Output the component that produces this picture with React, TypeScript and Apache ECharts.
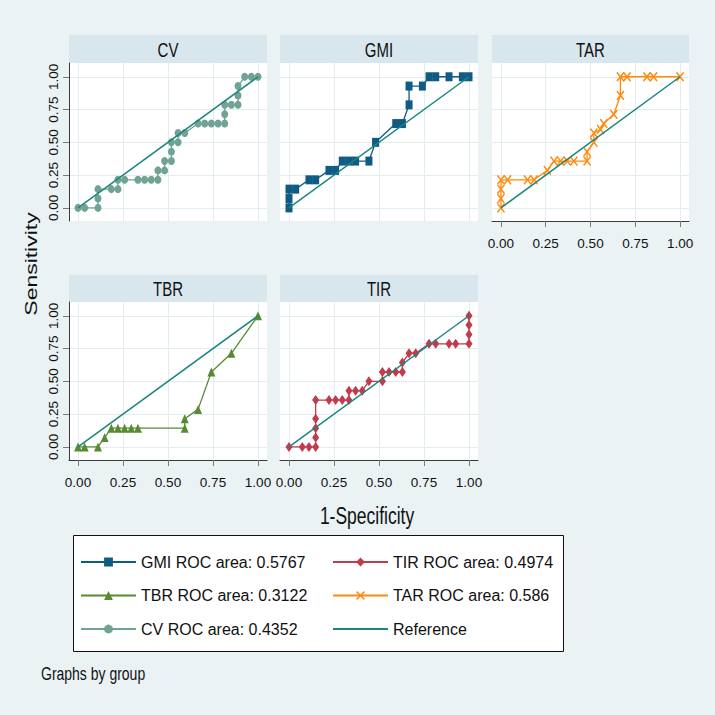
import React, { useEffect, useRef } from 'react';
import * as echarts from 'echarts';

// ---- data (1-Specificity, Sensitivity) ----
const cvX = [0, 0.037, 0.111, 0.111, 0.111, 0.185, 0.222, 0.222, 0.259, 0.333, 0.370, 0.407, 0.444, 0.444, 0.481, 0.481, 0.519, 0.519, 0.519, 0.556, 0.556, 0.593, 0.667, 0.704, 0.741, 0.778, 0.815, 0.815, 0.815, 0.852, 0.889, 0.889, 0.889, 0.926, 0.963, 1];
const cvY = [0, 0, 0, 0.071, 0.143, 0.143, 0.143, 0.214, 0.214, 0.214, 0.214, 0.214, 0.214, 0.286, 0.286, 0.357, 0.357, 0.429, 0.5, 0.5, 0.571, 0.571, 0.643, 0.643, 0.643, 0.643, 0.643, 0.714, 0.786, 0.786, 0.786, 0.857, 0.929, 1, 1, 1];

const gmiX = [0, 0, 0, 0.037, 0.111, 0.148, 0.222, 0.259, 0.296, 0.333, 0.370, 0.444, 0.481, 0.593, 0.630, 0.667, 0.667, 0.741, 0.778, 0.815, 0.889, 0.963, 1];
const gmiY = [0, 0.071, 0.143, 0.143, 0.214, 0.214, 0.286, 0.286, 0.357, 0.357, 0.357, 0.357, 0.5, 0.643, 0.643, 0.786, 0.929, 0.929, 1, 1, 1, 1, 1];

const tarX = [0, 0, 0, 0, 0.037, 0.148, 0.185, 0.259, 0.296, 0.333, 0.370, 0.407, 0.481, 0.481, 0.519, 0.519, 0.556, 0.574, 0.630, 0.667, 0.667, 0.704, 0.815, 0.852, 1];
const tarY = [0, 0.071, 0.143, 0.214, 0.214, 0.214, 0.214, 0.286, 0.357, 0.357, 0.357, 0.357, 0.357, 0.429, 0.5, 0.571, 0.597, 0.643, 0.714, 0.857, 1, 1, 1, 1, 1];

const tbrX = [0, 0.037, 0.111, 0.148, 0.185, 0.222, 0.259, 0.296, 0.333, 0.593, 0.593, 0.667, 0.741, 0.852, 1];
const tbrY = [0, 0, 0, 0.071, 0.143, 0.143, 0.143, 0.143, 0.143, 0.143, 0.214, 0.286, 0.571, 0.714, 1];

const tirX = [0, 0.074, 0.111, 0.148, 0.148, 0.148, 0.148, 0.148, 0.222, 0.259, 0.296, 0.333, 0.333, 0.370, 0.407, 0.444, 0.519, 0.519, 0.556, 0.593, 0.630, 0.630, 0.667, 0.704, 0.778, 0.815, 0.889, 0.926, 1, 1, 1, 1];
const tirY = [0, 0, 0, 0, 0.071, 0.143, 0.214, 0.357, 0.357, 0.357, 0.357, 0.357, 0.429, 0.429, 0.429, 0.5, 0.5, 0.571, 0.571, 0.571, 0.571, 0.643, 0.714, 0.714, 0.786, 0.786, 0.786, 0.786, 0.786, 0.857, 0.929, 1];

const refX = [0, 1];
const refY = [0, 1];

const panelNames = ['CV', 'GMI', 'TAR', 'TBR', 'TIR'];
const tickValues = [0, 0.25, 0.5, 0.75, 1];

const gmiName = 'GMI ROC area: 0.5767';
const tbrName = 'TBR ROC area: 0.3122';
const cvName = 'CV ROC area: 0.4352';
const tirName = 'TIR ROC area: 0.4974';
const tarName = 'TAR ROC area: 0.586';
const refName = 'Reference';

const xTitle = '1-Specificity';
const yTitle = 'Sensitivity';
const note = 'Graphs by group';

const FONT = '"Liberation Sans", Arial, Helvetica, sans-serif';

const COL = {
  gmi: '#0f5b83',
  tbr: '#578a33',
  cv: '#71a395',
  tir: '#c23b4c',
  tar: '#ff8a0d',
  ref: '#19877f',
};

const X_SYMBOL = 'path://M0,1.2 L1.2,0 L5,3.8 L8.8,0 L10,1.2 L6.2,5 L10,8.8 L8.8,10 L5,6.2 L1.2,10 L0,8.8 L3.8,5 Z';

// layout of the five panels: [left, top, width, height]
const layout: number[][] = [
  [69, 63, 198, 158],
  [280, 63, 198, 158],
  [492, 63, 197, 158],
  [69, 302, 198, 158],
  [280, 302, 198, 158],
];
const headerTop = [35, 35, 35, 275, 275];

const zip = (xs: number[], ys: number[]) => xs.map((v, i) => [v, ys[i]]);

export default function App() {
  const ref = useRef<HTMLDivElement>(null);
  useEffect(() => {
    if (!ref.current) return;
    const chart = echarts.init(ref.current, null, { renderer: 'svg' });

    const showXLabels = [false, false, true, true, true];
    const showYLabels = [true, false, false, true, false];

    const grids = layout.map((g) => ({
      left: g[0], top: g[1], width: g[2], height: g[3],
      show: true, backgroundColor: '#ffffff', borderWidth: 0, containLabel: false,
    }));

    const xAxes = layout.map((_, i) => ({
      type: 'value', gridIndex: i, min: -0.05, max: 1.05,
      axisLine: { show: showXLabels[i], onZero: false, lineStyle: { color: '#3a3a3a', width: 1 } },
      axisTick: { show: showXLabels[i], customValues: tickValues, length: 6, lineStyle: { color: '#7a7a7a' } },
      axisLabel: {
        show: showXLabels[i], customValues: tickValues, margin: 15,
        fontSize: 13.5, color: '#111', fontFamily: FONT,
        formatter: (v: number) => v.toFixed(2),
      },
      splitLine: { show: true, lineStyle: { color: '#e3edf1', width: 1 } },
    }));

    const yAxes = layout.map((_, i) => ({
      type: 'value', gridIndex: i, min: -0.1, max: 1.105,
      axisLine: { show: showYLabels[i], onZero: false, lineStyle: { color: '#3a3a3a', width: 1 } },
      axisTick: { show: showYLabels[i], customValues: tickValues, length: 6, lineStyle: { color: '#7a7a7a' } },
      axisLabel: {
        show: showYLabels[i], customValues: tickValues, rotate: 90, margin: 9,
        fontSize: 13.5, color: '#111', fontFamily: FONT,
        formatter: (v: number) => v.toFixed(2),
      },
      splitLine: { show: true, lineStyle: { color: '#e3edf1', width: 1 } },
    }));

    const rocDefs = [
      { name: cvName, data: zip(cvX, cvY), color: COL.cv, symbol: 'circle', size: [7, 8], idx: 0 },
      { name: gmiName, data: zip(gmiX, gmiY), color: COL.gmi, symbol: 'rect', size: [7, 9], idx: 1 },
      { name: tarName, data: zip(tarX, tarY), color: COL.tar, symbol: X_SYMBOL, size: [8, 10], idx: 2 },
      { name: tbrName, data: zip(tbrX, tbrY), color: COL.tbr, symbol: 'triangle', size: [8, 9], idx: 3 },
      { name: tirName, data: zip(tirX, tirY), color: COL.tir, symbol: 'diamond', size: [7, 10], idx: 4 },
    ];

    const series: any[] = [];
    rocDefs.forEach((d) => {
      series.push({
        type: 'line', name: d.name, xAxisIndex: d.idx, yAxisIndex: d.idx,
        data: d.data, symbol: d.symbol, symbolSize: d.size, showSymbol: true,
        lineStyle: { color: d.color, width: 1.3 },
        itemStyle: { color: d.color, borderWidth: 0 },
        color: d.color, z: 2, silent: true,
      });
    });
    layout.forEach((_, i) => {
      series.push({
        type: 'line', name: refName, xAxisIndex: i, yAxisIndex: i,
        data: zip(refX, refY), symbol: 'circle', symbolSize: 1, showSymbol: false,
        lineStyle: { color: COL.ref, width: 1.5 }, itemStyle: { color: COL.ref, opacity: 0 },
        color: COL.ref, z: 3, silent: true,
      });
    });

    const graphics: any[] = [];
    layout.forEach((g, i) => {
      graphics.push({
        type: 'rect', z: -1,
        shape: { x: g[0], y: headerTop[i], width: g[2], height: g[1] - headerTop[i] },
        style: { fill: '#d8e7ed' },
      });
      graphics.push({
        type: 'text', z: 5,
        x: g[0] + g[2] / 2, y: headerTop[i] + (g[1] - headerTop[i]) / 2 + 1,
        scaleY: 1.3,
        style: {
          text: panelNames[i], fill: '#111', font: `15px ${FONT}`,
          textAlign: 'center', textVerticalAlign: 'middle', align: 'center', verticalAlign: 'middle',
        },
      });
    });
    graphics.push({
      type: 'text', x: 31, y: 264, rotation: Math.PI / 2, scaleX: 1.35,
      style: {
        text: yTitle, fill: '#111', font: `17px ${FONT}`,
        textAlign: 'center', textVerticalAlign: 'middle', align: 'center', verticalAlign: 'middle',
      },
    });
    graphics.push({
      type: 'text', x: 367, y: 515, scaleY: 1.35,
      style: {
        text: xTitle, fill: '#111', font: `17.5px ${FONT}`,
        textAlign: 'center', textVerticalAlign: 'middle', align: 'center', verticalAlign: 'middle',
      },
    });
    graphics.push({
      type: 'text', x: 41, y: 673, scaleY: 1.3,
      style: {
        text: note, fill: '#111', font: `14px ${FONT}`,
        textAlign: 'left', textVerticalAlign: 'middle', align: 'left', verticalAlign: 'middle',
      },
    });
    graphics.push({
      type: 'rect', z: 0,
      shape: { x: 73.5, y: 535.5, width: 490, height: 116 },
      style: { fill: '#ffffff', stroke: '#111', lineWidth: 1 },
    });

    const legendCommon = {
      orient: 'vertical', itemWidth: 55, itemHeight: 11, itemGap: 13.5, padding: 0,
      selectedMode: false, z: 10,
      textStyle: { fontSize: 16, color: '#111', fontFamily: FONT, lineHeight: 20 },
    };

    chart.setOption({
      animation: false,
      backgroundColor: '#eaf2f4',
      grid: grids,
      xAxis: xAxes,
      yAxis: yAxes,
      series,
      legend: [
        { ...legendCommon, left: 80, top: 552, data: [gmiName, tbrName, cvName] },
        { ...legendCommon, left: 332, top: 552, data: [tirName, tarName, refName] },
      ],
      graphic: graphics,
    });

    return () => chart.dispose();
  }, []);

  return (
    <div
      ref={ref}
      style={{ position: 'fixed', left: 0, top: 0, width: 715, height: 715 }}
    />
  );
}
